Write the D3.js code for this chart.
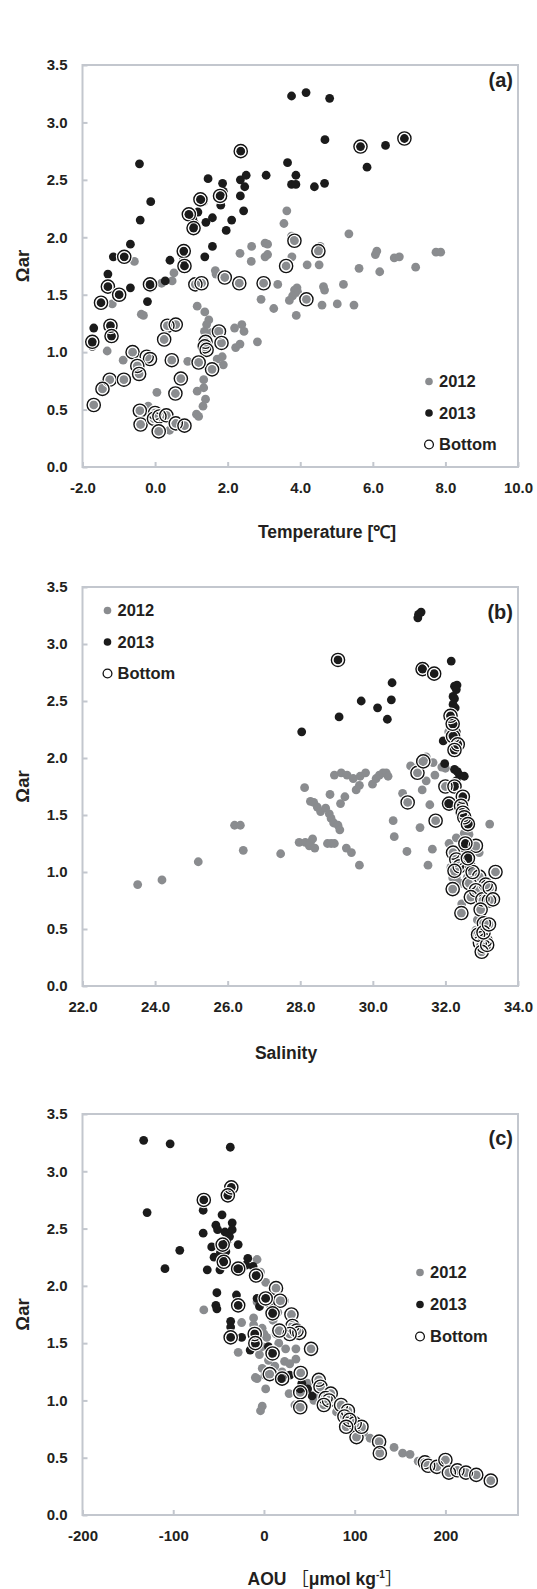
<!DOCTYPE html>
<html>
<head>
<meta charset="utf-8">
<script src="https://cdn.jsdelivr.net/npm/d3@7"></script>
<style>
  body { margin: 0; background: #fff; }
  svg text { font-family: "Liberation Sans", Arial, sans-serif; font-weight: bold; fill: #231f20; }
</style>
</head>
<body>
<svg id="chart" width="537" height="1589"></svg>
<script>
// -------------- DATA ----------------- //
// each point: [x, omega, bottom?]  (bottom == 1 -> circled "Bottom" sample)

const tempVsOmega2012 = [
  [3.63,2.23],[3.55,2.12],[3.76,2.01],[3.84,1.97,1],[5.34,2.03],[2.66,1.92],[3.03,1.95],[3.10,1.94],[2.34,1.86],
  [3.10,1.85],[3.03,1.83],[4.55,1.92],[4.50,1.88,1],[3.77,1.83],[2.65,1.79],[4.19,1.76],[3.61,1.75,1],[6.11,1.88],
  [6.07,1.85],[6.59,1.82],[6.73,1.83],[7.18,1.74],[5.62,1.73],[6.19,1.70],[7.74,1.87],[7.87,1.87],[4.52,1.76],
  [2.32,1.60,1],[2.99,1.60,1],[3.38,1.59],[3.91,1.56],[3.84,1.54],[3.93,1.52],[3.79,1.49],[3.70,1.45],[4.17,1.46,1],
  [4.64,1.57],[4.67,1.54],[5.19,1.59],[4.60,1.41],[5.02,1.42],[5.48,1.41],[3.89,1.32],[2.92,1.46],[3.27,1.38],
  [1.92,1.65,1],[1.66,1.71],[1.68,1.68],[1.11,1.59,1],[1.28,1.60,1],[0.52,1.69],[0.47,1.62],[0.18,1.60],
  [-0.57,1.79],[-0.38,1.33],[-1.18,1.42],[1.16,1.40],[1.37,1.35],[1.48,1.28],[1.42,1.24],[1.36,1.18],[-0.32,1.32],
  [0.34,1.23,1],[0.57,1.24,1],[0.25,1.11,1],[1.76,1.18,1],[1.83,1.08,1],[1.39,1.09,1],[1.37,1.05,1],[1.42,1.02,1],
  [2.19,1.21],[2.39,1.24],[2.45,1.18],[2.22,1.04],[2.34,1.07],[2.82,1.09],[1.71,0.94],[1.85,0.96],[1.88,0.89],
  [1.57,0.85,1],[1.20,0.91,1],[0.90,0.92],[0.46,0.93,1],[0.71,0.77,1],[0.56,0.64,1],[0.05,0.65],[1.34,0.76],
  [1.34,0.69],[1.39,0.59],[1.32,0.53],[1.14,0.46],[1.20,0.44],[1.16,0.66],[-0.62,1.00,1],[-0.88,0.93],[-1.32,1.01],
  [-0.23,0.96,1],[-0.14,0.94,1],[-0.49,0.88,1],[-0.44,0.81,1],[-1.25,0.76,1],[-0.86,0.76,1],[-1.45,0.68,1],
  [-1.69,0.54,1],[-0.42,0.49,1],[-0.40,0.37,1],[-0.19,0.53],[0.00,0.47,1],[-0.03,0.42,1],[0.12,0.44,1],
  [0.31,0.45,1],[0.10,0.31,1],[0.40,0.32],[0.57,0.38,1],[0.81,0.36,1],[-1.44,0.72],[1.55,1.17],[1.68,1.18]
];
const tempVsOmega2013 = [
  [-0.43,2.64],[-0.12,2.31],[-0.41,2.15],[-0.68,1.94],[-1.15,1.83],[-0.85,1.83,1],[-1.30,1.68],[-1.30,1.57,1],
  [-0.99,1.50,1],[-0.68,1.56],[-0.14,1.59,1],[-0.12,1.56],[-0.21,1.44],[-1.49,1.43,1],[0.28,1.62],[0.41,1.80],
  [0.79,1.88,1],[0.79,1.81],[0.81,1.75,1],[1.37,1.83],[1.58,1.92],[1.58,2.17],[1.40,2.13],[0.93,2.20,1],[1.04,2.16],
  [1.06,2.08,1],[1.18,2.22],[1.09,2.12],[1.25,2.33,1],[1.34,2.31],[1.46,2.51],[1.86,2.47],[1.79,2.36,1],[1.88,2.40],
  [1.81,2.28],[2.11,2.15],[1.96,2.06],[2.35,2.36],[2.35,2.50],[2.47,2.44],[2.51,2.54],[2.44,2.23],[2.36,2.75,1],
  [3.06,2.54],[3.65,2.65],[3.88,2.54],[3.76,2.46],[3.88,2.46],[3.76,3.23],[4.16,3.26],[4.81,3.21],[4.68,2.85],
  [6.87,2.86,1],[5.66,2.79,1],[6.35,2.80],[5.84,2.61],[4.39,2.44],[4.67,2.47],[-1.69,1.21],[-1.23,1.23,1],
  [-1.23,1.18],[-1.20,1.14,1],[-1.73,1.09,1],[-1.73,1.05]
];

const salVsOmega2012 = [
  [23.52,0.89],[24.19,0.93],[25.19,1.09],[26.19,1.41],[26.35,1.41],[26.43,1.19],[27.46,1.16],[28.12,1.74],
  [27.97,1.26],[28.14,1.26],[28.28,1.26],[28.34,1.29],[28.25,1.23],[28.40,1.21],[28.28,1.62],[28.37,1.61],
  [28.47,1.57],[28.56,1.53],[28.70,1.56],[28.80,1.51],[28.82,1.68],[28.75,1.25],[28.85,1.25],[28.94,1.25],
  [28.85,1.47],[28.92,1.43],[29.04,1.41],[29.09,1.37],[29.11,1.60],[29.23,1.66],[28.94,1.85],[29.13,1.87],
  [29.29,1.85],[29.46,1.82],[29.65,1.84],[29.80,1.87],[29.54,1.72],[29.63,1.76],[29.27,1.21],[29.41,1.17],
  [29.63,1.06],[29.99,1.77],[30.09,1.82],[30.18,1.85],[30.28,1.87],[30.37,1.87],[30.42,1.84],[30.56,1.45],
  [30.59,1.31],[30.82,1.69],[30.94,1.18],[31.04,1.93],[31.30,1.95],[31.47,2.01],[31.66,1.96],[31.36,1.72],
  [31.47,1.80],[31.30,1.39],[31.52,1.06],[31.57,1.59],[31.71,1.85],[31.64,1.20],[32.00,1.91],[30.96,1.61,1],
  [31.23,1.87,1],[31.39,1.97,1],[31.73,1.45,1],[32.00,1.75,1],[32.09,2.23],[32.21,1.17,1],[32.30,1.11,1],
  [32.39,1.05,1],[32.25,1.01,1],[32.84,1.23,1],[33.38,1.00,1],[32.93,0.96,1],[33.11,0.89,1],[32.66,0.90,1],
  [32.43,0.90],[32.84,0.84,1],[32.70,0.78,1],[33.02,0.76,1],[33.20,0.75,1],[32.97,0.67,1],[32.44,0.64,1],
  [33.06,0.55,1],[32.45,0.72],[32.88,0.58],[32.84,0.49],[32.52,1.34],[32.93,1.17],[33.22,1.42],[32.65,1.33],
  [32.15,1.04],[32.20,0.85,1],[32.30,0.95],[32.60,0.95],[32.75,1.00,1],[32.90,0.85],[33.00,0.42,1],
  [32.95,0.38,1],[33.05,0.35,1],[33.10,0.40,1],[32.90,0.45,1],[33.00,0.30,1],[33.15,0.36,1],[32.85,0.42],
  [33.05,0.47,1],[32.80,1.20],[32.20,0.95],[32.10,1.25],[32.30,1.30],[32.40,1.50],[32.20,1.75],[31.90,1.92],
  [33.20,0.54,1],[33.22,0.86,1],[33.31,0.76,1]
];
const salVsOmega2013 = [
  [28.04,2.23],[29.04,2.86,1],[29.07,2.36],[29.68,2.50],[30.13,2.44],[30.40,2.34],[30.51,2.51],[30.53,2.66],
  [31.24,3.23],[31.26,3.26],[31.33,3.28],[31.31,2.80],[31.37,2.78,1],[31.69,2.74,1],[32.16,2.85],[32.25,2.63],
  [32.32,2.64],[32.21,2.54],[32.25,2.52],[32.21,2.47],[32.27,2.44],[32.14,2.37,1],[32.18,2.32],[32.25,2.28],
  [32.30,2.23],[32.21,2.19,1],[32.30,2.16],[32.34,2.12,1],[32.25,2.07,1],[31.94,2.15],[32.20,2.10],[31.98,1.95],
  [32.25,1.90],[32.39,1.85],[32.52,1.84],[32.30,1.80],[32.33,1.88],[32.25,1.75,1],[32.48,1.66,1],[32.07,1.60],
  [32.21,1.58],[32.10,1.60,1],[32.43,1.58,1],[32.48,1.52,1],[32.52,1.48,1],[32.66,1.43],[32.62,1.42,1],
  [32.52,1.21],[32.66,1.17],[32.61,1.11],[32.70,1.07],[32.57,1.04],[32.55,1.25,1],[32.62,1.12,1],[32.20,2.30,1],
  [32.30,2.60]
];

const aouVsOmega2012 = [
  [-66.3,1.79],[-28.4,1.42],[-24.6,1.68],[-7.6,2.23],[-3.8,2.12],[-11.4,1.72],[-11.4,1.66],[1.9,2.03],[-7.6,1.86],
  [-2,1.63],[0,1.58],[3,1.55],[-2,1.47],[15.2,1.77],[22.7,1.87],[13.3,1.58],[16.3,1.50],[23.9,1.45],[35.2,1.45],
  [35.2,1.36],[22.7,1.34],[28.4,1.32],[-1.9,1.28],[1.1,1.22],[1.9,1.10],[-7.6,1.19],[-9.5,1.20],[-1.9,0.95],
  [-3.8,0.91],[27.7,1.06],[34.1,0.96],[13.3,1.98,1],[17.8,1.87,1],[30.3,1.75,1],[31.4,1.65,1],[36,1.61,1],
  [39,1.59,1],[28.4,1.58,1],[51.9,1.45,1],[17,1.61,1],[6.4,1.23,1],[20,1.19,1],[40.5,1.24,1],[40,1.07,1],
  [40,0.94,1],[60.4,1.18,1],[62.3,1.12,1],[73.6,1.06,1],[67.9,1.02,1],[71.7,1.00,1],[66,0.96,1],[85,0.96,1],
  [92.5,0.91,1],[88.7,0.86,1],[100,0.80,1],[102,0.68,1],[107.5,0.77,1],[94.3,0.83,1],[90.6,0.77,1],[126.9,0.64,1],
  [127.7,0.54,1],[177.4,0.46,1],[181,0.43,1],[190.6,0.42,1],[200,0.48,1],[203.8,0.37,1],[213.2,0.39,1],
  [222.6,0.37,1],[234,0.35,1],[250,0.30,1],[117,0.67],[143.4,0.59],[152.8,0.54],[161,0.53],[170,0.47],[185,0.44],
  [110,0.72],[80,0.90],[55,1.00],[48,1.15],[60,1.05],[5,1.35],[10,1.70],[12,1.30],[-5,1.40],[20,1.25]
];
const aouVsOmega2013 = [
  [-132.6,3.27],[-103.4,3.24],[-37.1,3.21],[-128.8,2.64],[-92.8,2.31],[-109.1,2.15],[-66.3,2.75,1],[-67.0,2.66],
  [-67.0,2.46],[-57.6,2.34],[-62.5,2.14],[-51.9,1.94],[-53.0,1.83],[-51.9,1.80],[-36,2.86,1],[-39.8,2.79,1],
  [-38,2.82],[-46.2,2.62],[-53,2.53],[-51.1,2.49],[-43,2.47],[-38,2.43],[-41,2.38],[-35,2.55],[-35,2.49],
  [-45.5,2.36,1],[-48,2.29],[-48.5,2.14],[-45.5,2.23],[-44.3,2.21,1],[-28.4,2.36],[-32.2,2.14],[-24.6,2.14],
  [-17.8,2.24],[-20,2.18],[-12,2.17],[-8.7,2.09,1],[-28.4,2.15,1],[-30.3,1.92],[-28.4,1.83,1],[-36.7,1.69],
  [-36.7,1.64],[-36.7,1.55,1],[-24.6,1.55],[-15.2,1.44],[-10.2,1.58,1],[-9.5,1.50,1],[-7.6,1.89],[-4.9,1.82],
  [1.9,1.89,1],[7.6,1.82],[9.5,1.76,1],[4.9,1.47],[9.5,1.41,1],[18.9,1.19],[28.4,1.22],[41.7,1.15],[39.8,1.10],
  [48.1,1.10],[53,1.04],[-55,2.25],[-42,2.30]
];

const omegaTicks = [0, 0.5, 1.0, 1.5, 2.0, 2.5, 3.0, 3.5];
const tempTicks = [-2, 0, 2, 4, 6, 8, 10];
const salTicks = [22, 24, 26, 28, 30, 32, 34];
const aouTicks = [-200, -100, 0, 100, 200];
const legendLabels = ["2012", "2013", "Bottom"];

// -------------- DESIGN CONSTANTS ----------------- //
const svg = d3.select("#chart");
const PLOT_LEFT = 82.5;
const PLOT_RIGHT = 518;
const AXIS_COLOR = "#c3c7ce";
const GREY = "#8a8c8f";
const BLACK = "#1b1b1b";
const DOT_R = 4.4;
const RING_R = 6.6;

// -------------- FUNCTIONS ----------------- //

function drawPanel(p) {
  const x = d3.scaleLinear().domain(p.xDomain).range([PLOT_LEFT, PLOT_RIGHT]);
  const y = d3.scaleLinear().domain([0, 3.5]).range([p.bottom, p.top]);
  const g = svg.append("g");

  // axes (ticks point inward, labels outside)
  const xAxis = d3.axisBottom(x).tickValues(p.xTicks).tickSize(-5).tickSizeOuter(0)
      .tickFormat(p.xFormat).tickPadding(15.5);
  const gx = g.append("g").attr("transform", `translate(0,${p.bottom})`).call(xAxis);
  const yAxis = d3.axisLeft(y).tickValues(omegaTicks).tickSize(-5).tickSizeOuter(0)
      .tickFormat(d => d.toFixed(1)).tickPadding(15);
  const gy = g.append("g").attr("transform", `translate(${PLOT_LEFT},0)`).call(yAxis);
  [gx, gy].forEach(a => {
    a.select(".domain").remove();
    a.selectAll(".tick line").attr("stroke", AXIS_COLOR).attr("stroke-width", 2);
    a.selectAll(".tick text").attr("font-size", 15).attr("fill", "#231f20")
      .attr("font-family", "Liberation Sans, Arial, sans-serif").attr("font-weight", "bold");
  });
  gx.selectAll(".tick text").attr("dy", "0.71em");

  g.append("rect")
    .attr("x", PLOT_LEFT).attr("y", p.top)
    .attr("width", PLOT_RIGHT - PLOT_LEFT).attr("height", p.bottom - p.top)
    .attr("fill", "none").attr("stroke", AXIS_COLOR).attr("stroke-width", 2);

  // markers: 2012, then 2013, then bottom rings on top
  const dots = g.append("g");
  dots.selectAll(".d12").data(p.data2012).join("circle")
    .attr("cx", d => x(d[0])).attr("cy", d => y(d[1])).attr("r", DOT_R).attr("fill", GREY);
  dots.selectAll(".d13").data(p.data2013).join("circle")
    .attr("cx", d => x(d[0])).attr("cy", d => y(d[1])).attr("r", DOT_R).attr("fill", BLACK);

  const bottoms = p.data2012.concat(p.data2013).filter(d => d[2] === 1);
  const rings = g.append("g");
  bottoms.forEach(d => {
    rings.append("circle").attr("cx", x(d[0])).attr("cy", y(d[1])).attr("r", RING_R)
      .attr("fill", "none").attr("stroke", "#fff").attr("stroke-width", 3.6);
    rings.append("circle").attr("cx", x(d[0])).attr("cy", y(d[1])).attr("r", RING_R)
      .attr("fill", "none").attr("stroke", "#111").attr("stroke-width", 1.4);
  });

  // panel letter
  g.append("text").attr("x", 513).attr("y", p.letterY)
    .attr("text-anchor", "end").attr("font-size", 20).text(p.letter);

  // y title
  g.append("text")
    .attr("transform", `translate(29,${(p.top + p.bottom) / 2}) rotate(-90)`)
    .attr("text-anchor", "middle").attr("font-size", 18.5).text("Ωar");

  // x title
  const xt = g.append("text").attr("x", p.titleX).attr("y", p.titleY)
    .attr("text-anchor", "middle").attr("font-size", 17.5);
  p.title(xt);

  // legend
  const lg = g.append("g").attr("transform", `translate(${p.legend[0]},${p.legend[1]})`);
  legendLabels.forEach((lab, i) => {
    const ly = i * p.legendStep;
    if (i < 2) {
      lg.append("circle").attr("cx", 0).attr("cy", ly).attr("r", 3.8).attr("fill", i === 0 ? GREY : BLACK);
    } else {
      lg.append("circle").attr("cx", 0).attr("cy", ly).attr("r", 4.4)
        .attr("fill", "#fff").attr("stroke", "#111").attr("stroke-width", 1.3);
    }
    lg.append("text").attr("x", 10).attr("y", ly).attr("dy", "0.36em")
      .attr("font-size", 16.5).text(lab);
  });
}

// -------------- PANELS ----------------- //

drawPanel({
  letter: "(a)", letterY: 87,
  top: 65, bottom: 467,
  xDomain: [-2, 10], xTicks: tempTicks, xFormat: d => d.toFixed(1),
  data2012: tempVsOmega2012, data2013: tempVsOmega2013,
  titleX: 327, titleY: 538,
  title: t => t.text("Temperature [℃]"),
  legend: [429, 381.5], legendStep: 31.5
});

drawPanel({
  letter: "(b)", letterY: 619,
  top: 587, bottom: 986,
  xDomain: [22, 34], xTicks: salTicks, xFormat: d => d.toFixed(1),
  data2012: salVsOmega2012, data2013: salVsOmega2013,
  titleX: 286, titleY: 1059,
  title: t => t.text("Salinity"),
  legend: [107.5, 610.5], legendStep: 31.5
});

drawPanel({
  letter: "(c)", letterY: 1145,
  top: 1114, bottom: 1515,
  xDomain: [-200, 280], xTicks: aouTicks, xFormat: d => String(d),
  data2012: aouVsOmega2012, data2013: aouVsOmega2013,
  titleX: 325, titleY: 1585,
  title: t => {
    t.append("tspan").text("AOU ");
    t.append("tspan").attr("font-family", "Noto Sans CJK JP").attr("font-weight", "normal").text("［");
    t.append("tspan").text("μmol kg");
    t.append("tspan").attr("dy", -7).attr("font-size", 10).text("-1");
    t.append("tspan").attr("dy", 7).attr("font-family", "Noto Sans CJK JP").attr("font-weight", "normal").text("］");
  },
  legend: [420, 1272.5], legendStep: 32
});
</script>
</body>
</html>
